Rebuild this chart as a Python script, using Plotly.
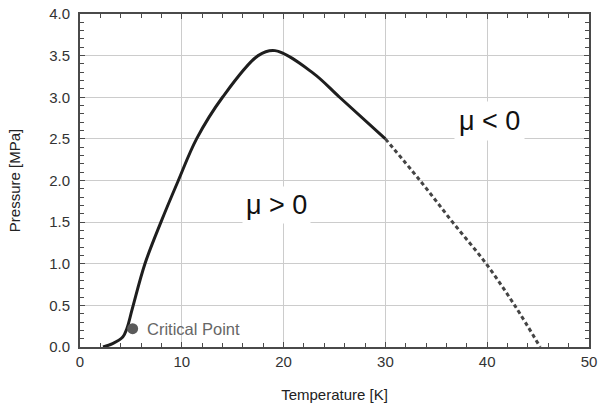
import plotly.graph_objects as go

# Inversion curve of helium
solid_T = [2.26, 3.2, 4.2, 4.6, 5.14, 6.38, 7.95, 9.66, 11.45, 14.0, 17.5, 19.15, 22.9, 25.5, 30.0]
solid_P = [0.0, 0.04, 0.12, 0.22, 0.46, 1.0, 1.5, 2.0, 2.5, 3.0, 3.5, 3.56, 3.29, 3.0, 2.5]

dashed_T = [30.0, 33.4, 36.6, 39.9, 42.7, 45.2]
dashed_P = [2.5, 2.0, 1.5, 1.0, 0.5, 0.0]

critical_T = [5.17]
critical_P = [0.22]

x_ticks = [0, 10, 20, 30, 40, 50]
y_ticks = [0.0, 0.5, 1.0, 1.5, 2.0, 2.5, 3.0, 3.5, 4.0]

FONT = "Liberation Sans, Arial, sans-serif"

fig = go.Figure()
fig.add_trace(go.Scatter(x=solid_T, y=solid_P, mode="lines",
                         line=dict(color="#1e1e1e", width=3, shape="spline", smoothing=1.0),
                         showlegend=False, hoverinfo="skip"))
fig.add_trace(go.Scatter(x=dashed_T, y=dashed_P, mode="lines",
                         line=dict(color="#444444", width=3, dash="4px,3px", shape="spline", smoothing=1.0),
                         showlegend=False, hoverinfo="skip"))
fig.add_trace(go.Scatter(x=critical_T, y=critical_P, mode="markers",
                         marker=dict(color="#5a5a5a", size=11),
                         showlegend=False, hoverinfo="skip"))

fig.add_annotation(x=6.4, y=critical_P[0], text="Critical Point", showarrow=False,
                   xanchor="left", yanchor="middle",
                   font=dict(family=FONT, size=16.5, color="#666666"))
fig.add_annotation(x=19.35, y=1.71, text="μ > 0", showarrow=False,
                   xanchor="center", yanchor="middle", bgcolor="white", borderpad=3,
                   font=dict(family=FONT, size=27, color="#111111"))
fig.add_annotation(x=40.2, y=2.72, text="μ < 0", showarrow=False,
                   xanchor="center", yanchor="middle", bgcolor="white", borderpad=4,
                   font=dict(family=FONT, size=27, color="#111111"))

axis_common = dict(showgrid=True, gridcolor="#cccccc", gridwidth=1,
                   showline=True, linecolor="#4a4a4a", linewidth=2, mirror="allticks",
                   ticks="inside", ticklen=5, tickcolor="#4a4a4a", tickwidth=1,
                   zeroline=False, automargin=False,
                   tickfont=dict(family=FONT, size=15, color="#333333"))

fig.update_xaxes(range=[0, 50], tickvals=x_ticks, ticktext=[str(v) for v in x_ticks],
                 ticklabelstandoff=0,
                 minor=dict(dtick=2, ticks="inside", ticklen=4, tickcolor="#4a4a4a", showgrid=False),
                 title=dict(text="Temperature [K]", font=dict(family=FONT, size=15, color="#222222"), standoff=20),
                 **axis_common)
fig.update_yaxes(range=[0, 4.0], tickvals=y_ticks, ticktext=[f"{v:.1f}" for v in y_ticks],
                 ticklabelstandoff=5,
                 minor=dict(dtick=0.1, ticks="inside", ticklen=4, tickcolor="#4a4a4a", showgrid=False),
                 title=dict(text="Pressure [MPa]", font=dict(family=FONT, size=15, color="#222222"), standoff=25),
                 **axis_common)

fig.update_layout(width=599, height=407, margin=dict(l=80, r=10, t=14, b=60, autoexpand=False),
                  plot_bgcolor="white", paper_bgcolor="white", showlegend=False)

fig.write_html("out.html")
